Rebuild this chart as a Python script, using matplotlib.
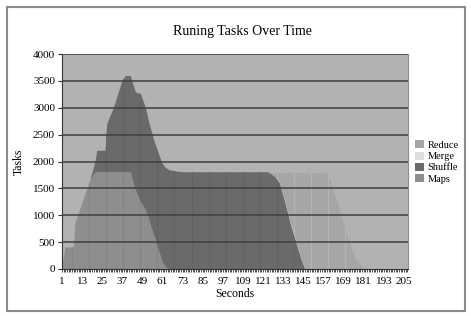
import numpy as np
import matplotlib.pyplot as plt
from matplotlib.patches import Rectangle, Patch

times = [1, 3, 8, 9, 12, 15, 18, 21, 22, 27,
         28, 30, 32, 35, 37, 39, 42, 44, 45, 46,
         48, 50, 51, 53, 54, 56, 57, 59, 61, 63,
         65, 70, 74, 124, 128, 131, 133, 135, 138, 141,
         144, 146, 150, 159, 161, 163, 165, 167, 170, 173,
         176, 180, 183, 207]

maps = [0, 400, 400, 850, 1120, 1400, 1650, 1800, 1800, 1800,
        1800, 1800, 1800, 1800, 1800, 1800, 1800, 1580, 1470, 1400,
        1250, 1150, 1100, 930, 800, 630, 550, 330, 130, 30,
        0, 0, 0, 0, 0, 0, 0, 0, 0, 0,
        0, 0, 0, 0, 0, 0, 0, 0, 0, 0,
        0, 0, 0, 0]

shuffle = [0, 0, 0, 0, 0, 0, 0, 200, 400, 400,
           900, 1050, 1200, 1500, 1700, 1790, 1790, 1810, 1830, 1870,
           2010, 1940, 1900, 1800, 1820, 1770, 1750, 1790, 1830, 1850,
           1840, 1810, 1800, 1800, 1720, 1600, 1380, 1150, 780, 480,
           170, 0, 0, 0, 0, 0, 0, 0, 0, 0,
           0, 0, 0, 0]

merge = [0, 0, 0, 0, 0, 0, 0, 0, 0, 0,
         0, 0, 0, 0, 0, 0, 0, 0, 0, 0,
         0, 0, 0, 0, 0, 0, 0, 0, 0, 0,
         0, 0, 0, 0, 0, 20, 30, 30, 30, 30,
         20, 0, 0, 0, 0, 0, 0, 0, 0, 0,
         0, 0, 0, 0]

reduce = [0, 0, 0, 0, 0, 0, 0, 0, 0, 0,
          0, 0, 0, 0, 0, 0, 0, 0, 0, 0,
          0, 0, 0, 0, 0, 0, 0, 0, 0, 0,
          0, 0, 0, 0, 60, 170, 370, 610, 980, 1280,
          1600, 1770, 1780, 1780, 1680, 1450, 1280, 1080, 750, 450,
          200, 40, 0, 0]

series_names = ['Maps', 'Shuffle', 'Merge', 'Reduce']
series_colors = ['#8e8e8e', '#6a6a6a', '#dedede', '#a6a6a6']
stripe_colors = ['#858585', '#636363', '#e6e6e6', '#b4b4b4']
xtick_labels = list(range(1, 206, 12))

plt.rcParams['font.family'] = ['Liberation Serif', 'DejaVu Serif']

fig = plt.figure(figsize=(4.71, 3.16), dpi=100)
ax = fig.add_axes([62/471, 1-269/316, 346/471, 215/316])
ax.set_facecolor('#b2b2b2')

polys = ax.stackplot(times, maps, shuffle, merge, reduce, colors=series_colors,
                     labels=series_names, linewidth=0, zorder=2)

# faint vertical banding seen inside the filled areas
for p, c in zip(polys, stripe_colors):
	vl = ax.vlines(np.arange(6.9, 207, 10.2), 0, 4000, colors=c, lw=0.9, zorder=2.5)
	vl.set_clip_path(p.get_paths()[0], p.get_transform())

# horizontal grid drawn over the areas
for v in range(500, 4001, 500):
	ax.axhline(v, color='#3f3f3f', lw=1.1, zorder=3)

ax.set_xlim(1, 207.4)
ax.set_ylim(0, 4000)
ax.set_xticks(xtick_labels)
ax.set_xticks(np.arange(1, 208), minor=True)
ax.set_yticks(range(0, 4001, 500))
ax.tick_params(axis='x', which='both', length=2.5, width=0.6, color='#333333', labelsize=8, pad=3)
ax.tick_params(axis='y', length=3, width=0.8, color='#333333', labelsize=8, pad=2)

ax.spines['top'].set_visible(False)
ax.spines['right'].set_color('#8c8c8c')
ax.spines['left'].set_color('#333333')
ax.spines['bottom'].set_color('#333333')
ax.spines['bottom'].set_zorder(4)

ax.set_xlabel('Seconds', fontsize=8.5, labelpad=2)
ax.set_ylabel('Tasks', fontsize=8.5, labelpad=6)
fig.text(242/471, 1-32/316, 'Runing Tasks Over Time', fontsize=10, ha='center', va='center')

handles = [Patch(facecolor=series_colors[i], edgecolor='none') for i in [3, 2, 1, 0]]
labels = [series_names[i] for i in [3, 2, 1, 0]]
fig.legend(handles, labels, loc='center left', bbox_to_anchor=(410/471, 1-162/316),
           frameon=False, fontsize=7.5, handlelength=0.8, handleheight=0.8,
           handletextpad=0.4, labelspacing=0.15, borderpad=0)

# outer frame of the chart
fig.add_artist(Rectangle((7/471, 1-311/316), 458/471, 304/316, transform=fig.transFigure,
                         fill=False, ec='#8a8a8a', lw=1.5))

fig.savefig('out.png', dpi=100)
